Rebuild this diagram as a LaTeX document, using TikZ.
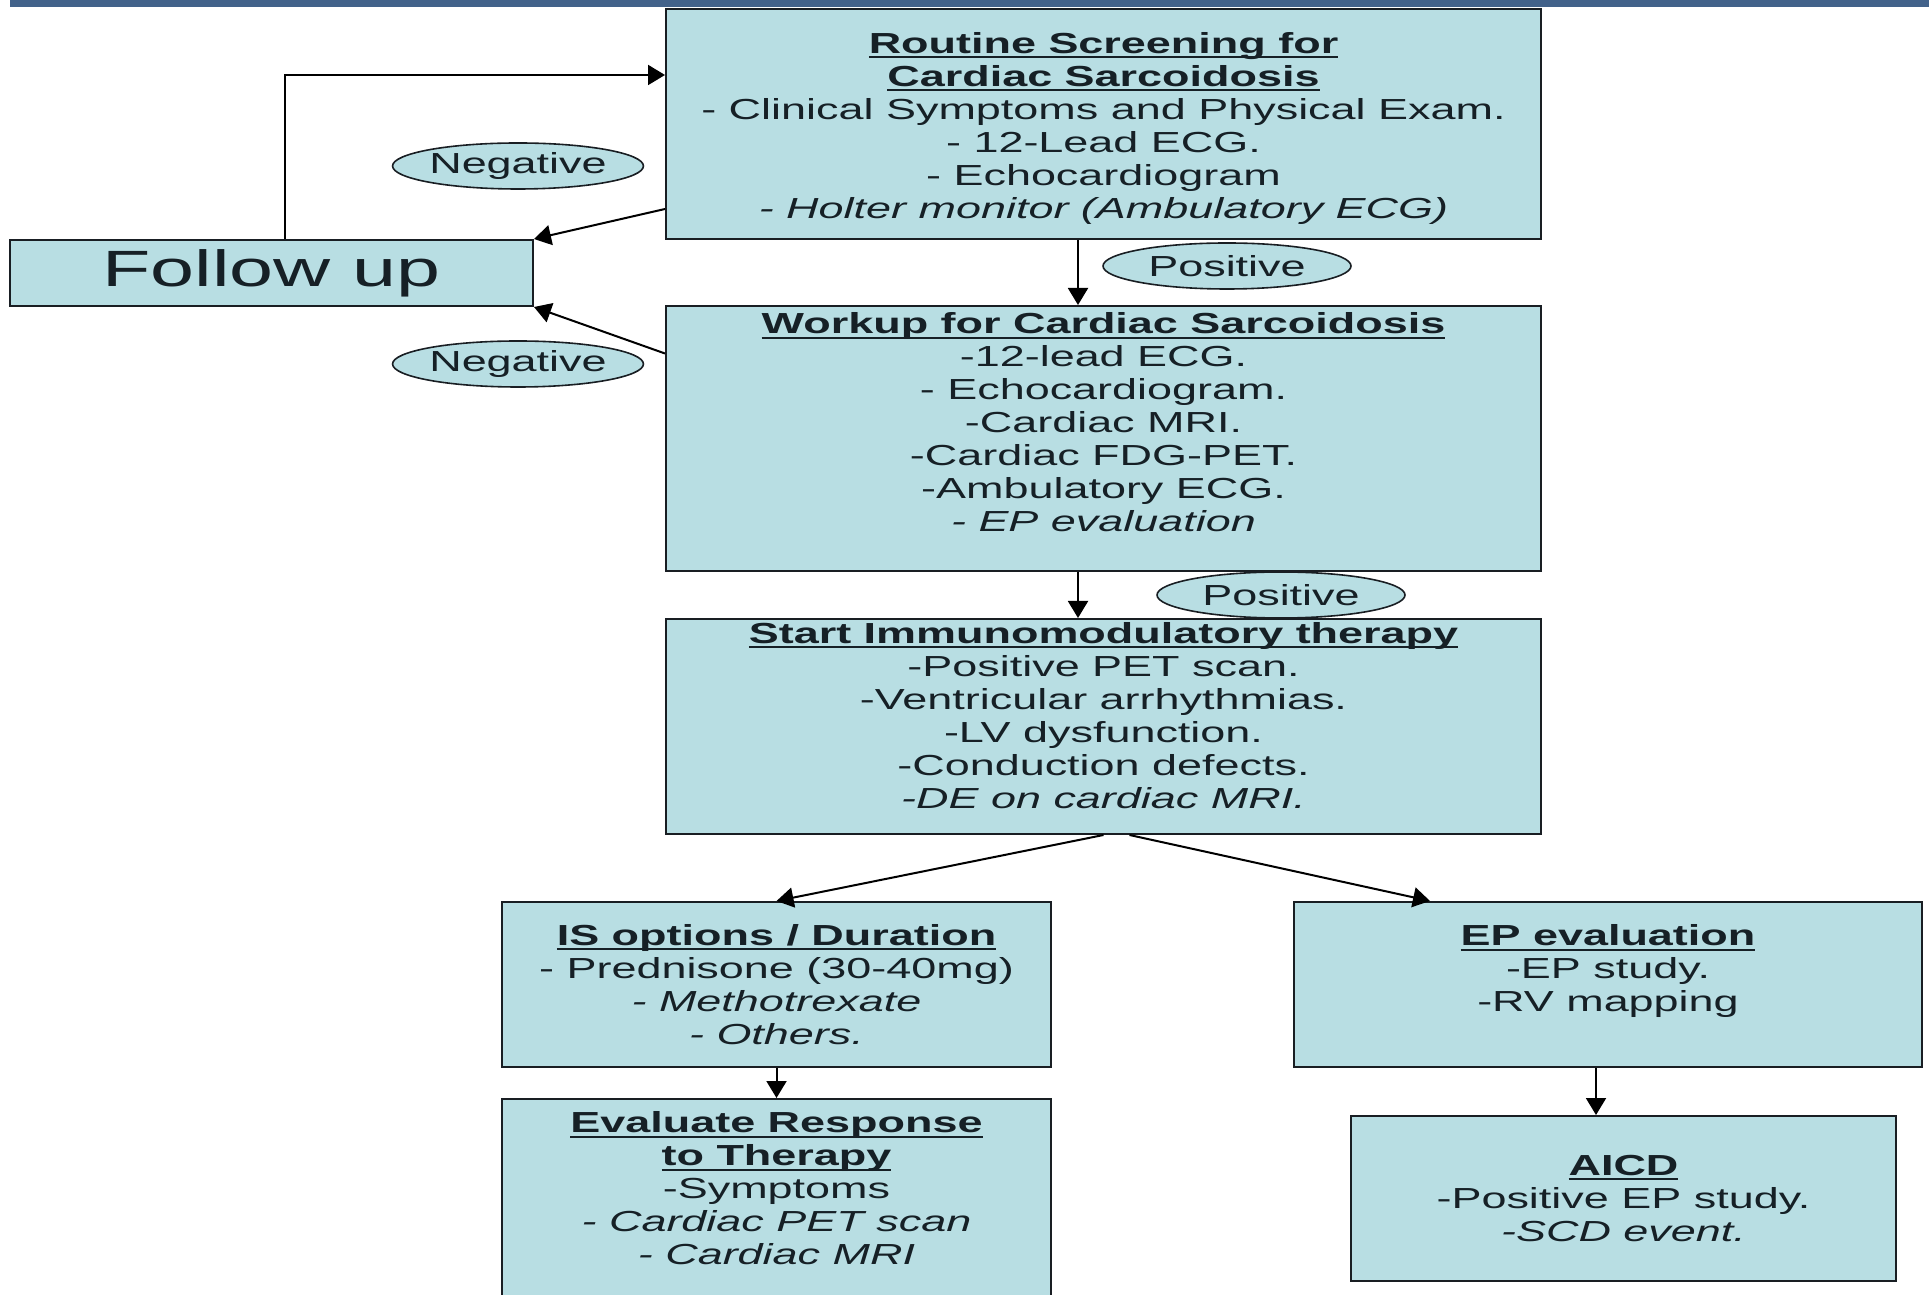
\documentclass[tikz,border=0pt]{standalone}
\usepackage{fontspec}
\setmainfont{Liberation Sans}[FakeStretch=1.55]
\usetikzlibrary{arrows.meta, positioning, shapes.geometric, calc}
\definecolor{boxFill}{RGB}{184,222,227}
\definecolor{boxEdge}{RGB}{25,30,35}
\definecolor{txtDark}{RGB}{22,32,38}
\definecolor{bandBlue}{RGB}{66,98,138}
\newlength{\ttlw}
\newcommand{\ttl}[1]{\settowidth{\ttlw}{\textbf{#1}}\textbf{#1}\llap{\rule[-5pt]{\ttlw}{2pt}}}

\begin{document}
\begin{tikzpicture}[
    x=1pt, y=1pt,
    box/.style={rectangle, draw=boxEdge, line width=2pt, fill=boxFill, inner sep=0pt, align=center, text=txtDark, font=\fontsize{29}{33}\selectfont},
    tag/.style={ellipse, draw=boxEdge, line width=1.6pt, fill=boxFill, inner sep=0pt, minimum width=248pt, minimum height=46pt, text=txtDark, font=\fontsize{29}{33}\selectfont},
    arrow/.style={-{Triangle[length=17pt,width=20pt]}, line width=2pt, black}
]
\useasboundingbox (0,0) rectangle (1929,1294);
\fill[bandBlue] (10,1287) rectangle (1929,1294);

% --- Coluna central ---
\node[box, minimum width=875pt, minimum height=230pt] (screen) at (1103.5,1170)
    {\rule{0pt}{30pt}\ttl{Routine Screening for}\\ \ttl{Cardiac Sarcoidosis}\\- Clinical Symptoms and Physical Exam.\\- 12-Lead ECG.\\- Echocardiogram\\\textit{- Holter monitor (Ambulatory ECG)}};

\node[box, minimum width=875pt, minimum height=265pt] (workup) at (1103.5,855.5)
    {\ttl{Workup for Cardiac Sarcoidosis}\\-12-lead ECG.\\- Echocardiogram.\\-Cardiac MRI.\\-Cardiac FDG-PET.\\-Ambulatory ECG.\\\textit{- EP evaluation}\\\mbox{}};

\node[box, minimum width=875pt, minimum height=215pt] (start) at (1103.5,567.5)
    {\ttl{Start Immunomodulatory therapy}\\-Positive PET scan.\\-Ventricular arrhythmias.\\-LV dysfunction.\\-Conduction defects.\\\textit{-DE on cardiac MRI.}\\[-10pt]\mbox{}};

% --- Esquerda: follow up ---
\node[box, minimum width=523pt, minimum height=66pt, font=\fontsize{51}{60}\selectfont] (follow) at (271.5,1021) {Follow up};

% --- Ramos de baixo ---
\node[box, minimum width=549pt, minimum height=165pt] (isopt) at (776.5,309.5)
    {\ttl{IS options / Duration}\\- Prednisone (30-40mg)\\\textit{- Methotrexate}\\\textit{- Others.}};

\node[box, minimum width=549pt, minimum height=211pt] (evalr) at (776.5,89.5)
    {\ttl{Evaluate Response}\\\ttl{to Therapy}\\-Symptoms\\\textit{- Cardiac PET scan}\\\textit{- Cardiac MRI}\\\mbox{}};

\node[box, minimum width=628pt, minimum height=165pt] (ep) at (1608,309.5)
    {\ttl{EP evaluation}\\-EP study.\\-RV mapping\\\mbox{}};

\node[box, minimum width=545pt, minimum height=165pt] (aicd) at (1623.5,95.5)
    {\ttl{AICD}\\-Positive EP study.\\\textit{-SCD event.}};

% --- Etiquetas ---
\node[tag] (negA) at (518,1128) {Negative};
\node[tag] (posA) at (1227,1028) {Positive};
\node[tag] (negB) at (518,930) {Negative};
\node[tag] (posB) at (1281,699) {Positive};

% === SETAS ===
\draw[arrow] ([xshift=13.5pt]follow.north) |- ([yshift=49pt]screen.west);
\draw[arrow] ([yshift=-85pt]screen.west) -- (follow.north east);
\draw[arrow] ([yshift=85pt]workup.west) -- (follow.south east);

\draw[arrow] ([xshift=-25.5pt]screen.south) -- ([xshift=-25.5pt]workup.north);
\draw[arrow] ([xshift=-25.5pt]workup.south) -- ([xshift=-25.5pt]start.north);

\draw[arrow] (start.south) -- (isopt.north);
\draw[arrow] ([xshift=26pt]start.south) -- ([xshift=-178pt]ep.north);

\draw[arrow] (isopt) -- (evalr);
\draw[arrow] ([xshift=-12pt]ep.south) -- ([xshift=-27.5pt]aicd.north);

\end{tikzpicture}
\end{document}
